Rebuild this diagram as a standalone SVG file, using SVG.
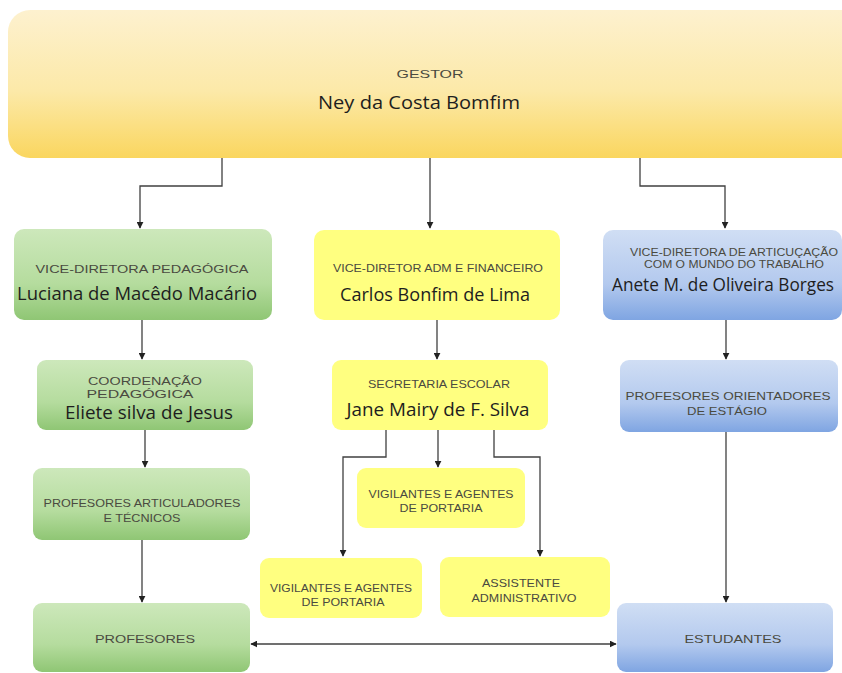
<svg xmlns="http://www.w3.org/2000/svg" width="842" height="673" viewBox="0 0 842 673">
<defs>
<linearGradient id="gGold" x1="0" y1="0" x2="0" y2="1"><stop offset="0" stop-color="#fdf1cf"/><stop offset="0.55" stop-color="#fce9a8"/><stop offset="1" stop-color="#fad65f"/></linearGradient>
<linearGradient id="gGreen" x1="0" y1="0" x2="0" y2="1"><stop offset="0" stop-color="#cde8bb"/><stop offset="0.6" stop-color="#b5dc9e"/><stop offset="1" stop-color="#8fc674"/></linearGradient>
<linearGradient id="gBlue" x1="0" y1="0" x2="0" y2="1"><stop offset="0" stop-color="#d0def4"/><stop offset="0.6" stop-color="#b3c9ee"/><stop offset="1" stop-color="#7fa5e2"/></linearGradient>
<marker id="arr" viewBox="0 0 10 10" refX="9" refY="5" markerWidth="7" markerHeight="7" orient="auto-start-reverse" markerUnits="userSpaceOnUse"><path d="M0,0 L10,5 L0,10 z" fill="#222"/></marker>
</defs>
<style>
.sm{font-family:"Liberation Sans",Arial,sans-serif;font-size:11px;fill:#4a4a40;text-anchor:middle}
.tt{font-size:10px}
.nm{font-family:"Open Sans","Noto Sans",sans-serif;font-size:18px;fill:#1e1e1e;text-anchor:middle}
.conn path{fill:none;stroke:#404040;stroke-width:1.3}
.gr{fill:url(#gGreen)}
.ye{fill:#ffff80}
.bl{fill:url(#gBlue)}
</style>
<rect width="842" height="673" fill="#ffffff"/>

<g id="gestor">
<rect x="8" y="10" width="870" height="148" rx="22" fill="url(#gGold)"/>
<text class="sm" x="430" y="78" font-size="13" textLength="67" lengthAdjust="spacingAndGlyphs">GESTOR</text>
<text class="nm" x="419" y="109" textLength="202" lengthAdjust="spacingAndGlyphs">Ney da Costa Bomfim</text>
</g>

<g id="vice_pedagogica">
<rect class="gr" x="14" y="229" width="258" height="91" rx="10"/>
<text class="sm" x="142" y="273" textLength="213" lengthAdjust="spacingAndGlyphs">VICE-DIRETORA PEDAGÓGICA</text>
<text class="nm" x="137" y="300" textLength="240" lengthAdjust="spacingAndGlyphs">Luciana de Macêdo Macário</text>
</g>

<g id="vice_adm">
<rect class="ye" x="314" y="230" width="246" height="90" rx="10"/>
<text class="sm" x="438" y="272" textLength="210" lengthAdjust="spacingAndGlyphs">VICE-DIRETOR ADM E FINANCEIRO</text>
<text class="nm" x="435" y="301" textLength="190" lengthAdjust="spacingAndGlyphs">Carlos Bonfim de Lima</text>
</g>

<g id="vice_articulacao">
<rect class="bl" x="603" y="230" width="239" height="90" rx="10"/>
<text class="sm tt" x="734" y="256" textLength="208" lengthAdjust="spacingAndGlyphs">VICE-DIRETORA DE ARTICUÇAÇÃO</text>
<text class="sm tt" x="734" y="268" textLength="180" lengthAdjust="spacingAndGlyphs">COM O MUNDO DO TRABALHO</text>
<text class="nm" x="723" y="291" font-size="16" textLength="222" lengthAdjust="spacingAndGlyphs">Anete M. de Oliveira Borges</text>
</g>

<g id="coordenacao">
<rect class="gr" x="37" y="360" width="216" height="70" rx="9"/>
<text class="sm tt" x="145" y="385" textLength="114" lengthAdjust="spacingAndGlyphs">COORDENAÇÃO</text>
<text class="sm tt" x="140" y="398" textLength="107" lengthAdjust="spacingAndGlyphs">PEDAGÓGICA</text>
<text class="nm" x="149" y="419" font-size="16" textLength="168" lengthAdjust="spacingAndGlyphs">Eliete silva de Jesus</text>
</g>

<g id="secretaria">
<rect class="ye" x="332" y="360" width="216" height="70" rx="9"/>
<text class="sm" x="439" y="388" textLength="142" lengthAdjust="spacingAndGlyphs">SECRETARIA ESCOLAR</text>
<text class="nm" x="438" y="416" textLength="183" lengthAdjust="spacingAndGlyphs">Jane Mairy de F. Silva</text>
</g>

<g id="orientadores">
<rect class="bl" x="620" y="360" width="218" height="72" rx="9"/>
<text class="sm" x="728" y="400" textLength="205" lengthAdjust="spacingAndGlyphs">PROFESORES ORIENTADORES</text>
<text class="sm" x="727" y="415" textLength="80" lengthAdjust="spacingAndGlyphs">DE ESTÁGIO</text>
</g>

<g id="articuladores">
<rect class="gr" x="33" y="468" width="217" height="72" rx="9"/>
<text class="sm" x="142" y="507" textLength="197" lengthAdjust="spacingAndGlyphs">PROFESORES ARTICULADORES</text>
<text class="sm" x="142" y="522" textLength="77" lengthAdjust="spacingAndGlyphs">E TÉCNICOS</text>
</g>

<g id="vigilantes1">
<rect class="ye" x="357" y="468" width="168" height="60" rx="9"/>
<text class="sm" x="441" y="498" textLength="145" lengthAdjust="spacingAndGlyphs">VIGILANTES E AGENTES</text>
<text class="sm" x="441" y="512" textLength="83" lengthAdjust="spacingAndGlyphs">DE PORTARIA</text>
</g>

<g id="vigilantes2">
<rect class="ye" x="260" y="558" width="162" height="60" rx="9"/>
<text class="sm" x="341" y="592" textLength="142" lengthAdjust="spacingAndGlyphs">VIGILANTES E AGENTES</text>
<text class="sm" x="343" y="606" textLength="83" lengthAdjust="spacingAndGlyphs">DE PORTARIA</text>
</g>

<g id="assistente">
<rect class="ye" x="440" y="557" width="170" height="60" rx="9"/>
<text class="sm" x="521" y="587" textLength="78" lengthAdjust="spacingAndGlyphs">ASSISTENTE</text>
<text class="sm" x="524" y="602" textLength="105" lengthAdjust="spacingAndGlyphs">ADMINISTRATIVO</text>
</g>

<g id="professores">
<rect class="gr" x="33" y="603" width="217" height="69" rx="9"/>
<text class="sm" x="145" y="643" font-size="12" textLength="100" lengthAdjust="spacingAndGlyphs">PROFESORES</text>
</g>

<g id="estudantes">
<rect class="bl" x="617" y="603" width="216" height="69" rx="9"/>
<text class="sm" x="733" y="643" font-size="12" textLength="97" lengthAdjust="spacingAndGlyphs">ESTUDANTES</text>
</g>

<g class="conn" id="connectors">
<path d="M222,158 V186 H140 V228" marker-end="url(#arr)"/>
<path d="M430,158 V228" marker-end="url(#arr)"/>
<path d="M640,158 V186 H725 V228" marker-end="url(#arr)"/>
<path d="M142,320 V359" marker-end="url(#arr)"/>
<path d="M437,320 V359" marker-end="url(#arr)"/>
<path d="M726,320 V359" marker-end="url(#arr)"/>
<path d="M145,430 V467" marker-end="url(#arr)"/>
<path d="M386,430 V457 H343 V556" marker-end="url(#arr)"/>
<path d="M438,430 V467" marker-end="url(#arr)"/>
<path d="M494,430 V457 H540 V556" marker-end="url(#arr)"/>
<path d="M142,540 V602" marker-end="url(#arr)"/>
<path d="M726,432 V602" marker-end="url(#arr)"/>
<path d="M251,644 H616" marker-start="url(#arr)" marker-end="url(#arr)"/>
</g>
</svg>
